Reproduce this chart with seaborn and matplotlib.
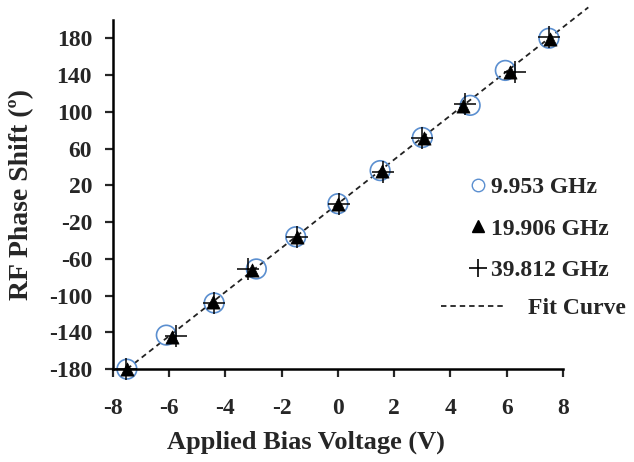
import numpy as np
import pandas as pd
import matplotlib
matplotlib.use('Agg')
import matplotlib.pyplot as plt
import seaborn as sns
from matplotlib.lines import Line2D

# data
v_9953 = [-7.5, -6.1, -4.4, -2.9, -1.5, 0.0, 1.5, 3.0, 4.7, 5.95, 7.5]
ph_9953 = [-180, -143, -108, -71, -36, 0, 36, 72, 107, 145, 180]
v_19906 = [-7.5, -5.9, -4.45, -3.05, -1.45, 0.0, 1.55, 3.05, 4.45, 6.1, 7.55]
ph_19906 = [-180, -145, -107, -72, -36, 0, 36, 71, 106, 143, 179]
v_39812 = [-7.55, -5.75, -4.4, -3.2, -1.45, 0.05, 1.6, 3.0, 4.5, 6.3, 7.5]
ph_39812 = [-180, -144, -108, -71, -36, 0, 35, 72, 108, 143, 181]
fit_v = [-7.5, 8.9]
fit_ph = [-180, 213.6]

xticks = [-8, -6, -4, -2, 0, 2, 4, 6, 8]
yticks = [-180, -140, -100, -60, -20, 20, 60, 100, 140, 180]

sns.set_style('ticks')
plt.rcParams['font.family'] = ['Liberation Serif', 'DejaVu Serif']
plt.rcParams['font.weight'] = 'bold'
plt.rcParams['axes.unicode_minus'] = False

fig = plt.figure(figsize=(6.34, 4.62), dpi=100)
ax = fig.add_axes([0.178, 0.201, 0.710, 0.756])

sns.lineplot(x=fit_v, y=fit_ph, ax=ax, color='#222222', linestyle=(0, (3, 2.2)),
             linewidth=1.3, clip_on=False, zorder=1)
sns.scatterplot(x=v_9953, y=ph_9953, ax=ax, marker='o', s=200, facecolor='none',
                edgecolor='#5B8FD0', linewidth=1.2, clip_on=False, zorder=2)
sns.scatterplot(x=v_19906, y=ph_19906, ax=ax, marker='^', s=90, color='black',
                edgecolor='black', linewidth=0.5, clip_on=False, zorder=3)
sns.scatterplot(x=v_39812, y=ph_39812, ax=ax, marker='+', s=230, color='black',
                linewidth=1.1, clip_on=False, zorder=4)

ax.set_xlim(-8, 8)
ax.set_ylim(-180, 200)
ax.set_xticks(xticks)
ax.set_yticks(yticks)
ax.tick_params(axis='both', direction='out', length=6, width=1.6, labelsize=17)
for lab in ax.get_xticklabels() + ax.get_yticklabels():
    lab.set_fontweight('bold')
ax.tick_params(axis='x', pad=15)
ax.tick_params(axis='y', pad=9)
sns.despine(ax=ax)
for s in ['left', 'bottom']:
    ax.spines[s].set_linewidth(1.8)
    ax.spines[s].set_color('black')

ax.set_xlabel('Applied Bias Voltage (V)', fontsize=19, fontweight='bold')
ax.set_ylabel('RF Phase Shift (º)', fontsize=20, fontweight='bold')
ax.xaxis.set_label_coords(0.43, -0.176)
ax.yaxis.set_label_coords(-0.176, 0.5)

h1 = Line2D([], [], marker='o', linestyle='none', markersize=9, markerfacecolor='none',
            markeredgecolor='#5B8FD0', markeredgewidth=1.0)
h2 = Line2D([], [], marker='^', linestyle='none', markersize=8, color='black')
h3 = Line2D([], [], marker='+', linestyle='none', markersize=13, color='black',
            markeredgewidth=1.2)
leg1 = ax.legend([h1, h2, h3], ['9.953 GHz', '19.906 GHz', '39.812 GHz'],
                 loc='upper left', bbox_to_anchor=(0.767, 0.585), frameon=False,
                 prop={'size': 17, 'weight': 'bold'}, handlelength=0.7,
                 handletextpad=0.2, labelspacing=0.85, borderpad=0)
ax.add_artist(leg1)
h4 = Line2D([], [], color='#222222', linestyle=(0, (3, 2.2)), linewidth=1.3)
ax.legend([h4], ['Fit Curve'], loc='upper left', bbox_to_anchor=(0.703, 0.238),
          frameon=False, prop={'size': 17, 'weight': 'bold'}, handlelength=2.7,
          handletextpad=1.0, borderpad=0)

fig.savefig('out.png', dpi=100)
